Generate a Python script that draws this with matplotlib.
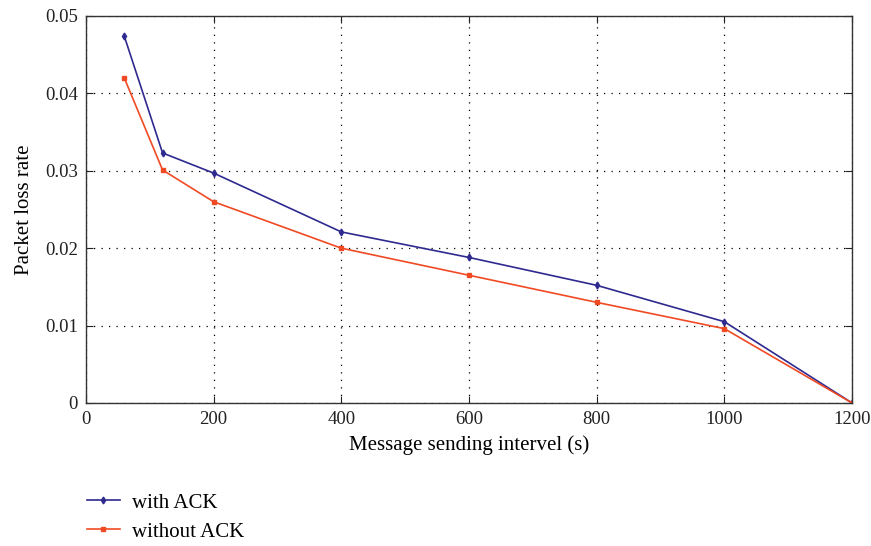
import matplotlib
matplotlib.use("Agg")
import matplotlib.pyplot as plt

x = [60, 120, 200, 400, 600, 800, 1000, 1200]
with_ack = [0.0474, 0.0323, 0.0297, 0.0221, 0.0188, 0.0152, 0.0105, 0.0]
without_ack = [0.0420, 0.0301, 0.0260, 0.0200, 0.0165, 0.0130, 0.0096, 0.0]
xticks = [0, 200, 400, 600, 800, 1000, 1200]
yticks = [0, 0.01, 0.02, 0.03, 0.04, 0.05]
ytick_labels = ["0", "0.01", "0.02", "0.03", "0.04", "0.05"]

plt.rcParams['font.family'] = ['Liberation Serif', 'DejaVu Serif']

fig = plt.figure(figsize=(8.71, 5.46), dpi=100)
ax = fig.add_axes([0.0987, 0.262, 0.8795, 0.7087])

l1, = ax.plot(x, with_ack, color='#2E2A8F', marker='d', markersize=3.5, linewidth=1.2, label='with ACK')
l2, = ax.plot(x, without_ack, color='#F04A24', marker='s', markersize=3, linewidth=1.2, label='without ACK')

ax.set_xlim(0, 1200)
ax.set_ylim(0, 0.05)
ax.set_xticks(xticks)
ax.set_yticks(yticks)
ax.set_yticklabels(ytick_labels)
ax.grid(True, linestyle=(0, (1, 5)), color='black', linewidth=0.9)
ax.tick_params(direction='in', length=5, labelsize=13.5, top=True, right=True, pad=6, colors='#222222')
for s in ax.spines.values():
    s.set_color('#333333')
    s.set_linewidth(1.0)
ax.set_xlabel('Message sending intervel (s)', fontsize=15, labelpad=5)
ax.set_ylabel('Packet loss rate', fontsize=15, labelpad=8)

fig.legend(handles=[l1, l2], loc='upper left', bbox_to_anchor=(0.090, 0.112), frameon=False,
           fontsize=15, handlelength=1.6, handletextpad=0.55, labelspacing=0.45, borderaxespad=0)

fig.savefig('out.png', dpi=100)
